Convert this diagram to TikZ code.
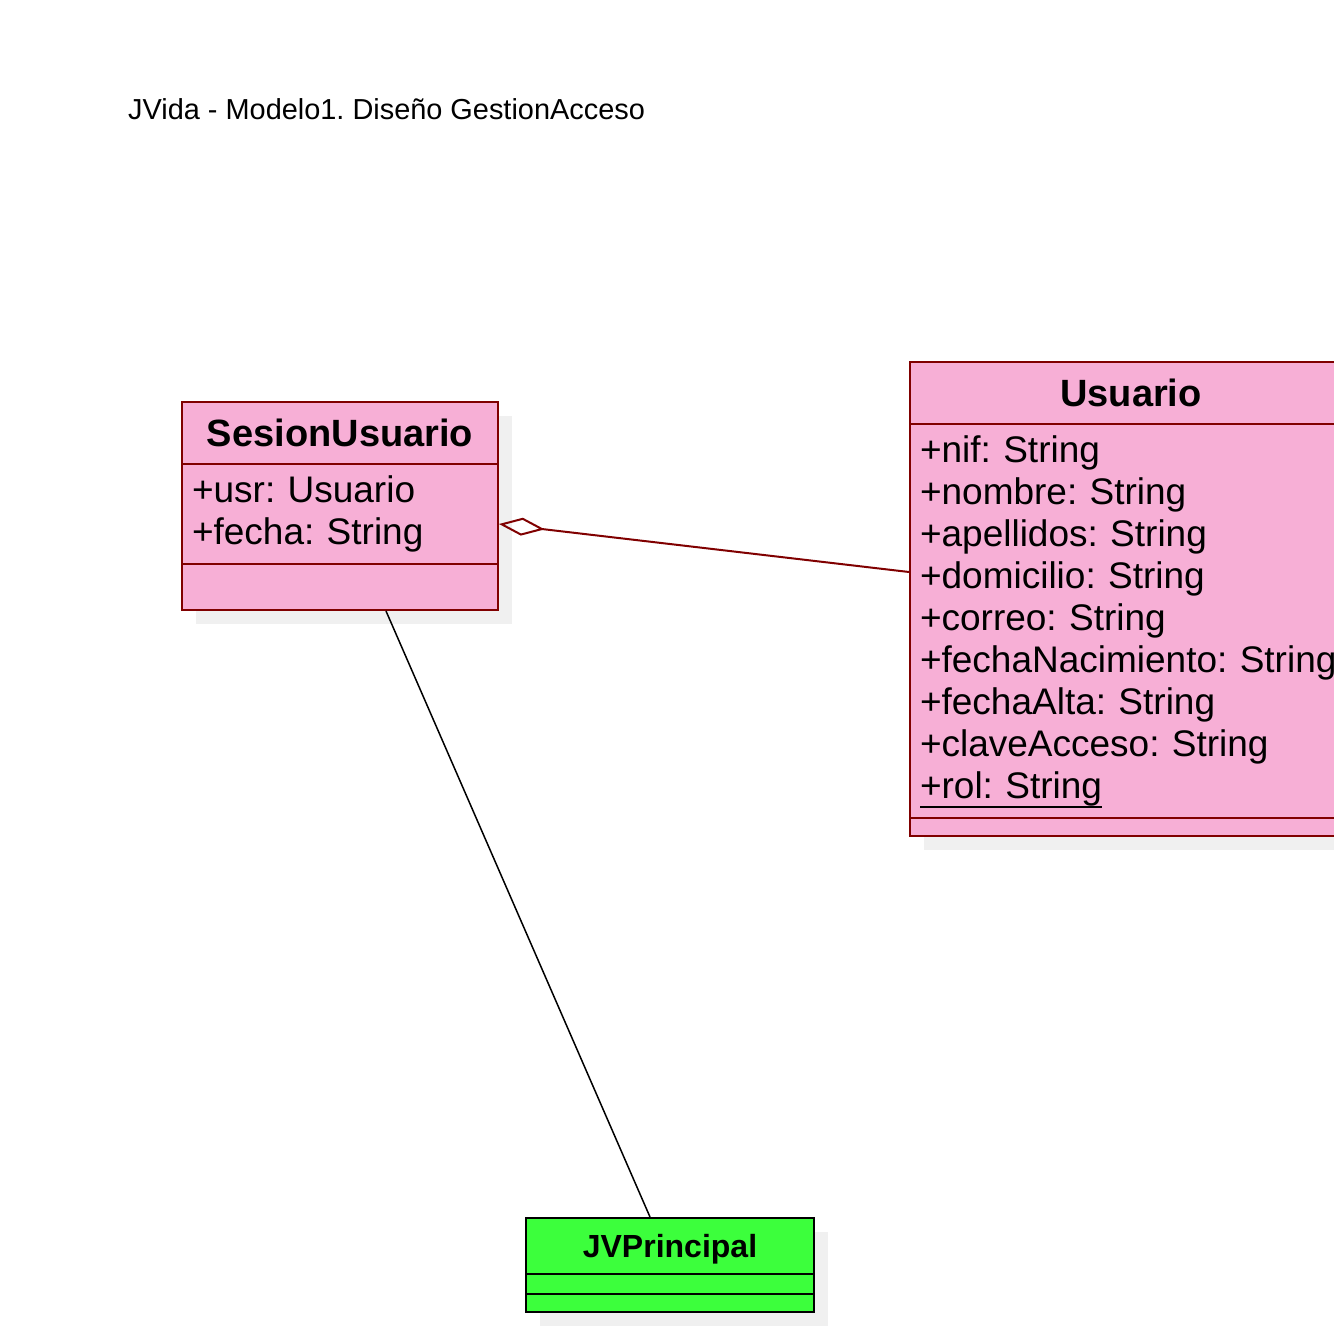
\documentclass[tikz,border=0pt]{standalone}
\usepackage{fontspec}
\setmainfont{Liberation Sans}
\usetikzlibrary{arrows.meta,shadows}
\frenchspacing

\definecolor{umlpink}{HTML}{F7AFD6}
\definecolor{umlred}{HTML}{800000}
\definecolor{umlgreen}{HTML}{3CFF3C}
\definecolor{shadowgray}{HTML}{F0F0F0}

% static attribute, underlined
\newcommand{\staticattr}[1]{\leavevmode\setbox0\hbox{#1}\rlap{\smash{\rule[-9pt]{\wd0}{2pt}}}\box0}

\begin{document}
\begin{tikzpicture}[x=1pt, y=-1pt,
    compart/.style={draw=umlred, fill=umlpink, line width=2pt, inner sep=0pt,
        drop shadow={shadow xshift=14pt, shadow yshift=-14pt, fill=shadowgray, opacity=1}},
    header/.style={compart, font=\fontsize{38}{44}\selectfont\bfseries},
    attrs/.style={compart, inner xsep=10pt, align=left, font=\fontsize{37}{42}\selectfont},
    jvcompart/.style={compart, draw=black, fill=umlgreen, minimum width=288pt},
    aggregation/.style={draw=umlred, line width=2pt, {Diamond[open, length=46pt, width=18pt]}-},
    assoc/.style={draw=black, line width=1.5pt}]
    \useasboundingbox (0,0) rectangle (1334,1330);
    \clip (0,0) rectangle (1334,1330);

    \node[anchor=base west, inner sep=0pt, font=\fontsize{28.9}{34}\selectfont] (title) at (128,119)
        {JVida - Modelo1. Diseño GestionAcceso};

    % SesionUsuario
    \node[header, minimum width=316pt, minimum height=62pt] (sesionhead) at (340,433) {SesionUsuario};
    \node[attrs, text width=296pt, minimum height=100pt] (sesionattr) at (340,514)
        {+usr: Usuario\\+fecha: String};
    \node[compart, minimum width=316pt, minimum height=46pt] (sesionops) at (340,587) {};

    % Usuario
    \node[header, minimum width=442pt, minimum height=62pt] (usrhead) at (1131,393) {Usuario};
    \node[attrs, text width=422pt, minimum height=394pt] (usrattr) at (1131,621)
        {+nif: String\\+nombre: String\\+apellidos: String\\+domicilio: String\\+correo: String\\
         \mbox{+fechaNacimiento: String}\\+fechaAlta: String\\+claveAcceso: String\\\staticattr{+rol: String}};
    \node[compart, minimum width=442pt, minimum height=18pt] (usrops) at (1131,827) {};

    % JVPrincipal
    \node[jvcompart, minimum height=56pt, text depth=0pt, font=\fontsize{32}{38}\selectfont\bfseries] (jvhead) at (670,1246) {JVPrincipal};
    \node[jvcompart, minimum height=20pt] (jvattr) at (670,1284) {};
    \node[jvcompart, minimum height=18pt] (jvops) at (670,1303) {};

    \draw[aggregation] ([yshift=-10pt]sesionattr.east) -- ([yshift=49pt]usrattr.west);
    \draw[assoc] ([xshift=46pt]sesionops.south) -- ([xshift=-20pt]jvhead.north);
\end{tikzpicture}
\end{document}
